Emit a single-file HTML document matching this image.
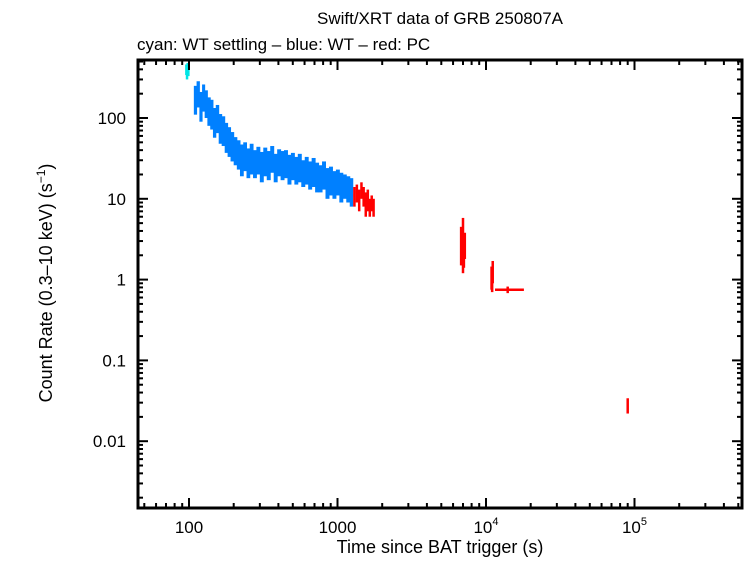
<!DOCTYPE html>
<html><head><meta charset="utf-8"><style>
body{margin:0;background:#fff;}
svg text{font-family:"Liberation Sans",sans-serif;fill:#000;}
</style></head><body>
<svg id="chart" width="746" height="558" xmlns="http://www.w3.org/2000/svg">
<text x="440" y="24" font-size="17" text-anchor="middle">Swift/XRT data of GRB 250807A</text>
<text x="137" y="50" font-size="17">cyan: WT settling – blue: WT – red: PC</text>
<text x="440" y="553" font-size="18" text-anchor="middle">Time since BAT trigger (s)</text>
<text transform="translate(52,283) rotate(-90)" font-size="18" text-anchor="middle">Count Rate (0.3–10 keV) (s<tspan font-size="12" dy="-7">−1</tspan><tspan dy="7">)</tspan></text>
<g id="marks"></g>
<g id="axes"></g>
</svg>
<script>
const cyanT=[96,97,98,99];
const cyanR=[400,350,420,380];
const cyanE=[60,50,60,50];
const blueT=[110,115,120,125,130,136,142,148,155,162,170,178,186,195,205,215,226,238,250,263,277,292,308,325,343,362,382,403,425,448,473,499,526,555,586,618,652,688,726,766,808,853,900,950,1002,1057,1115,1177,1242];
const blueR=[180,210,150,190,160,130,120,95,105,80,75,62,55,48,42,38,33,36,30,34,29,32,27,31,28,33,26,30,28,29,25,27,24,26,22,24,21,23,20,19,21,17,18,16,17,15,15,14,13];
const blueE=[70,75,60,70,60,50,48,38,40,32,30,25,22,19,16,15,14,14,12,14,11,12,11,12,11,12,10,11,11,11,10,10,9,10,8,9,8,9,8,7,8,7,7,6,6,6,5,5,5];
const redT=[1300,1350,1400,1450,1500,1550,1600,1650,1700,1750,6800,6900,7000,7100,7200,10900,11000,11100,14000,90000];
const redR=[11,12,10,13,11,9,10,8,9,8,3,2.5,3.5,2.2,2.8,1.1,0.9,1.3,0.75,0.028];
const redE=[3,3,3,3,3,3,3,2,2,2,1.5,1,2.3,0.8,1,0.35,0.2,0.4,0.07,0.006];
const redLo=[1280,1330,1380,1430,1480,1530,1580,1630,1680,1730,6750,6850,6950,7050,7150,10850,10950,11050,11500,89000];
const redHi=[1320,1370,1420,1470,1520,1570,1620,1670,1720,1770,6850,6950,7050,7150,7250,10950,11050,11150,18000,91000];
const xTicks=[100,1000,10000,100000];
const yTicks=[0.01,0.1,1,10,100];
const yLabels=["0.01","0.1","1","10","100"];

const L=138,R=742,T=60,B=508;
const x=t=>189+(Math.log10(t)-2)*148.5;
const y=v=>118-(Math.log10(v)-2)*80.8;
const NS="http://www.w3.org/2000/svg";
const marks=document.getElementById('marks');
const axes=document.getElementById('axes');
function mk(tag,attrs,parent){const e=document.createElementNS(NS,tag);for(const k in attrs)e.setAttribute(k,attrs[k]);parent.appendChild(e);return e;}
function bar(t,r,e,lo,hi,col,name){
  const g=mk('g',{},marks);
  
  
  mk('line',{x1:x(t),x2:x(t),y1:y(r+e),y2:y(Math.max(r-e,r*0.3)),stroke:col,'stroke-width':2.5},g);
  mk('line',{x1:x(lo),x2:x(hi),y1:y(r),y2:y(r),stroke:col,'stroke-width':2.5},g);
}
cyanT.forEach((t,i)=>bar(t,cyanR[i],cyanE[i],t-0.5,t+0.5,'#00e5e5','cyan-point'));
blueT.forEach((t,i)=>{const lo=i?Math.sqrt(blueT[i-1]*t):t*0.98;const hi=i<blueT.length-1?Math.sqrt(blueT[i+1]*t):t*1.02;
  const g=mk('rect',{x:x(lo),width:x(hi)-x(lo)+0.5,y:y(blueR[i]+blueE[i]),height:y(blueR[i]-blueE[i])-y(blueR[i]+blueE[i]),fill:'#0080ff'},marks);
  
  
});
redT.forEach((t,i)=>bar(t,redR[i],redE[i],redLo[i],redHi[i],'#ff0000','red-point'));

const frame=mk('rect',{x:L,y:T,width:R-L,height:B-T,fill:'none',stroke:'#000','stroke-width':3},axes);


for(let d=1;d<=5;d++)for(let m=1;m<10;m++){const v=Math.pow(10,d)*m;const px=x(v);if(px<L||px>R)continue;const len=m==1?10:5;
  mk('line',{x1:px,x2:px,y1:B,y2:B-len,stroke:'#000','stroke-width':2},axes);
  mk('line',{x1:px,x2:px,y1:T,y2:T+len,stroke:'#000','stroke-width':2},axes);}
for(let d=-3;d<=2;d++)for(let m=1;m<10;m++){const v=Math.pow(10,d)*m;const py=y(v);if(py<T||py>B)continue;const len=m==1?10:5;
  mk('line',{x1:L,x2:L+len,y1:py,y2:py,stroke:'#000','stroke-width':2},axes);
  mk('line',{x1:R,x2:R-len,y1:py,y2:py,stroke:'#000','stroke-width':2},axes);}
xTicks.forEach(v=>{const tx=mk('text',{x:x(v),y:B+25,'font-size':17,'text-anchor':'middle'},axes);
  
  
  const e=Math.log10(v);
  if(e<=3)tx.textContent=String(v);else{tx.innerHTML='10<tspan font-size="11" dy="-8">'+e+'</tspan>';}
});
yTicks.forEach((v,i)=>{const tx=mk('text',{x:L-12,y:y(v)+6,'font-size':17,'text-anchor':'end'},axes);
  
  
  tx.textContent=yLabels[i];});
</script>
</body></html>
